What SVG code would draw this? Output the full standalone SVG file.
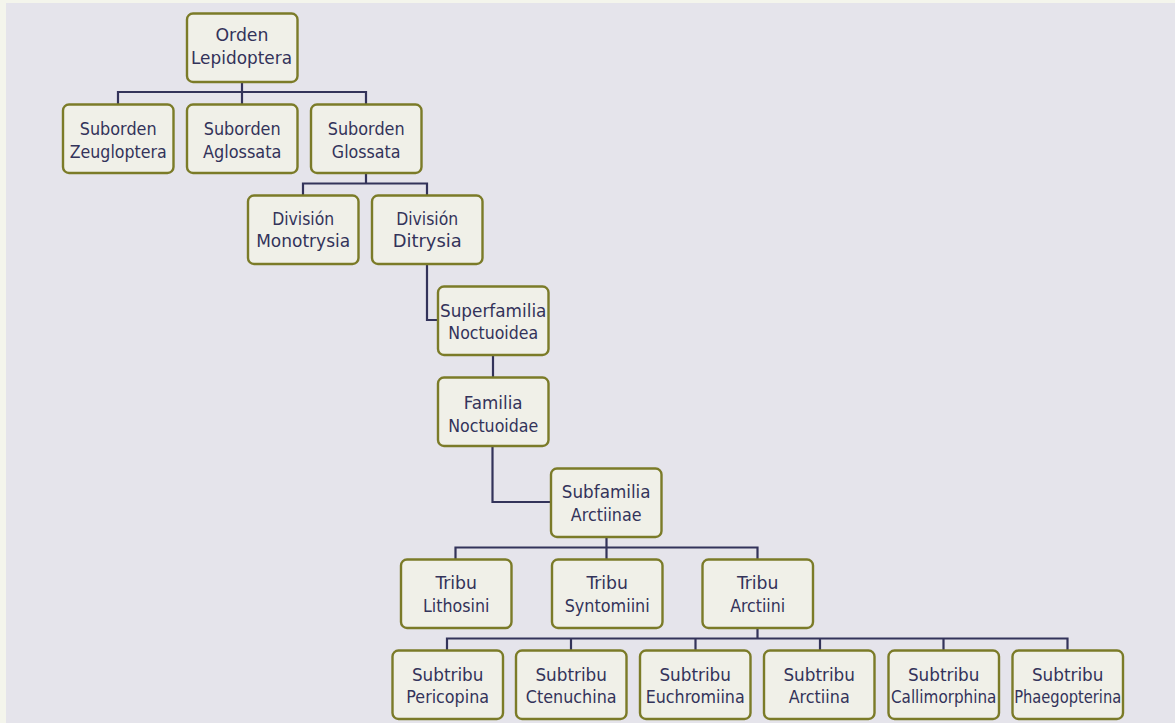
<svg xmlns="http://www.w3.org/2000/svg" width="1175" height="723" viewBox="0 0 1175 723">
<style>
.bg{fill:#f4f5ec}
.panel{fill:#e5e4eb}
.box{fill:#f0f0e8;stroke:#7b7b28;stroke-width:2.4}
.lbl{font-family:"DejaVu Sans Condensed","DejaVu Sans","Noto Sans",sans-serif;font-stretch:condensed;font-size:18px;fill:#33335a;text-anchor:middle}
.con{fill:none;stroke:#33335a;stroke-width:2.2}
</style>
<rect class="bg" x="0" y="0" width="1175" height="723"/>
<rect class="panel" x="6" y="3" width="1169" height="720"/>
<g id="connectors">
<path class="con" d="M242 82V92H118V104M242 92H366V104M242 92V104"/>
<path class="con" d="M366 173V183.5H303V195M366 183.5H427V195"/>
<path class="con" d="M427 264V320H438"/>
<path class="con" d="M493 355V377"/>
<path class="con" d="M492.5 446V502H551"/>
<path class="con" d="M606.5 537V547.5H455.5V559M606.5 547.5H757.5V559M606.5 547.5V559"/>
<path class="con" d="M757.5 628V638.5H447V650M757.5 638.5H1067.5V650M571 638.5V650M695.5 638.5V650M820 638.5V650M943.5 638.5V650"/>
</g>
<g id="n-orden"><rect class="box" x="187" y="13.5" width="110.5" height="68.5" rx="6"/><text class="lbl" x="242" y="40.7" textLength="53" lengthAdjust="spacingAndGlyphs">Orden</text><text class="lbl" x="241.5" y="63.5" textLength="101" lengthAdjust="spacingAndGlyphs">Lepidoptera</text></g>
<g id="n-zeugloptera"><rect class="box" x="63" y="104.5" width="110.5" height="68.5" rx="6"/><text class="lbl" x="118.2" y="135" textLength="77" lengthAdjust="spacingAndGlyphs">Suborden</text><text class="lbl" x="118.2" y="157.7" textLength="97" lengthAdjust="spacingAndGlyphs">Zeugloptera</text></g>
<g id="n-aglossata"><rect class="box" x="187" y="104.5" width="110.5" height="68.5" rx="6"/><text class="lbl" x="242.2" y="135" textLength="77" lengthAdjust="spacingAndGlyphs">Suborden</text><text class="lbl" x="242.2" y="157.7" textLength="78.5" lengthAdjust="spacingAndGlyphs">Aglossata</text></g>
<g id="n-glossata"><rect class="box" x="311" y="104.5" width="110.5" height="68.5" rx="6"/><text class="lbl" x="366.2" y="135" textLength="77" lengthAdjust="spacingAndGlyphs">Suborden</text><text class="lbl" x="366.2" y="157.7" textLength="68.7" lengthAdjust="spacingAndGlyphs">Glossata</text></g>
<g id="n-monotrysia"><rect class="box" x="248" y="195.5" width="110.5" height="68.5" rx="6"/><text class="lbl" x="303.2" y="225.2" textLength="62" lengthAdjust="spacingAndGlyphs">División</text><text class="lbl" x="303.2" y="246.8" textLength="94" lengthAdjust="spacingAndGlyphs">Monotrysia</text></g>
<g id="n-ditrysia"><rect class="box" x="372" y="195.5" width="110.5" height="68.5" rx="6"/><text class="lbl" x="427.2" y="225.2" textLength="62" lengthAdjust="spacingAndGlyphs">División</text><text class="lbl" x="427.2" y="246.8" textLength="69" lengthAdjust="spacingAndGlyphs">Ditrysia</text></g>
<g id="n-noctuoidea"><rect class="box" x="438" y="286.5" width="110.5" height="68.5" rx="6"/><text class="lbl" x="493.2" y="317.3" textLength="106.5" lengthAdjust="spacingAndGlyphs">Superfamilia</text><text class="lbl" x="493.2" y="339.3" textLength="89.7" lengthAdjust="spacingAndGlyphs">Noctuoidea</text></g>
<g id="n-noctuoidae"><rect class="box" x="438" y="377.5" width="110.5" height="68.5" rx="6"/><text class="lbl" x="493.2" y="409" textLength="58.7" lengthAdjust="spacingAndGlyphs">Familia</text><text class="lbl" x="493.2" y="431.7" textLength="90" lengthAdjust="spacingAndGlyphs">Noctuoidae</text></g>
<g id="n-arctiinae"><rect class="box" x="551" y="468.5" width="110.5" height="68.5" rx="6"/><text class="lbl" x="606.2" y="498.3" textLength="88.7" lengthAdjust="spacingAndGlyphs">Subfamilia</text><text class="lbl" x="606.2" y="520.7" textLength="70.7" lengthAdjust="spacingAndGlyphs">Arctiinae</text></g>
<g id="n-lithosini"><rect class="box" x="401" y="559.5" width="110.5" height="68.5" rx="6"/><text class="lbl" x="456.2" y="589.3" textLength="41.5" lengthAdjust="spacingAndGlyphs">Tribu</text><text class="lbl" x="456.2" y="611.7" textLength="66.4" lengthAdjust="spacingAndGlyphs">Lithosini</text></g>
<g id="n-syntomiini"><rect class="box" x="552" y="559.5" width="110.5" height="68.5" rx="6"/><text class="lbl" x="607.2" y="589.3" textLength="41.5" lengthAdjust="spacingAndGlyphs">Tribu</text><text class="lbl" x="607.2" y="611.7" textLength="85" lengthAdjust="spacingAndGlyphs">Syntomiini</text></g>
<g id="n-arctiini"><rect class="box" x="702.5" y="559.5" width="110.5" height="68.5" rx="6"/><text class="lbl" x="757.7" y="589.3" textLength="41.5" lengthAdjust="spacingAndGlyphs">Tribu</text><text class="lbl" x="757.7" y="611.7" textLength="55" lengthAdjust="spacingAndGlyphs">Arctiini</text></g>
<g id="n-pericopina"><rect class="box" x="392.5" y="650.5" width="110.5" height="68.5" rx="6"/><text class="lbl" x="447.7" y="680.7" textLength="71.6" lengthAdjust="spacingAndGlyphs">Subtribu</text><text class="lbl" x="447.7" y="703" textLength="82.7" lengthAdjust="spacingAndGlyphs">Pericopina</text></g>
<g id="n-ctenuchina"><rect class="box" x="516" y="650.5" width="110.5" height="68.5" rx="6"/><text class="lbl" x="571.2" y="680.7" textLength="71.6" lengthAdjust="spacingAndGlyphs">Subtribu</text><text class="lbl" x="571.2" y="703" textLength="90.7" lengthAdjust="spacingAndGlyphs">Ctenuchina</text></g>
<g id="n-euchromiina"><rect class="box" x="640" y="650.5" width="110.5" height="68.5" rx="6"/><text class="lbl" x="695.2" y="680.7" textLength="71.6" lengthAdjust="spacingAndGlyphs">Subtribu</text><text class="lbl" x="695.2" y="703" textLength="99" lengthAdjust="spacingAndGlyphs">Euchromiina</text></g>
<g id="n-arctiina"><rect class="box" x="764" y="650.5" width="110.5" height="68.5" rx="6"/><text class="lbl" x="819.2" y="680.7" textLength="71.6" lengthAdjust="spacingAndGlyphs">Subtribu</text><text class="lbl" x="819.2" y="703" textLength="61" lengthAdjust="spacingAndGlyphs">Arctiina</text></g>
<g id="n-callimorphina"><rect class="box" x="888.5" y="650.5" width="110.5" height="68.5" rx="6"/><text class="lbl" x="943.7" y="680.7" textLength="71.6" lengthAdjust="spacingAndGlyphs">Subtribu</text><text class="lbl" x="943.7" y="703" textLength="105.5" lengthAdjust="spacingAndGlyphs">Callimorphina</text></g>
<g id="n-phaegopterina"><rect class="box" x="1012.5" y="650.5" width="110.5" height="68.5" rx="6"/><text class="lbl" x="1067.7" y="680.7" textLength="71.6" lengthAdjust="spacingAndGlyphs">Subtribu</text><text class="lbl" x="1067.7" y="703" textLength="107" lengthAdjust="spacingAndGlyphs">Phaegopterina</text></g>
</svg>
